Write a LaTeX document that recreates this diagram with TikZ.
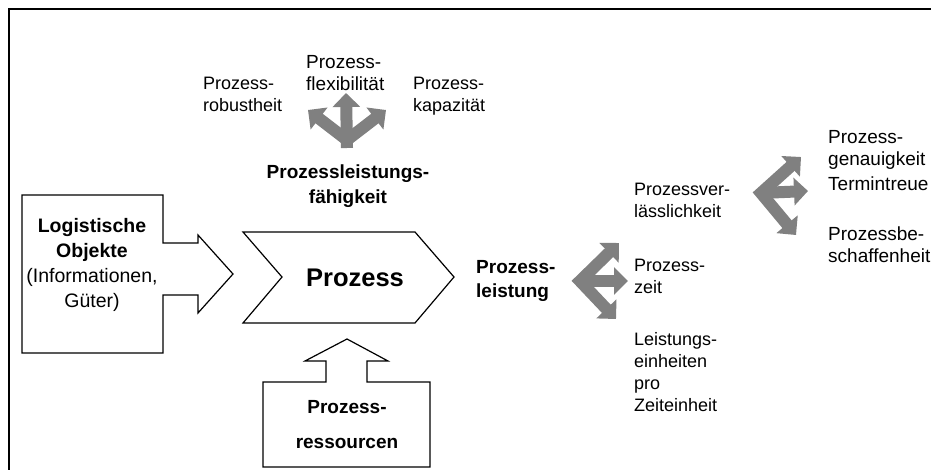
\documentclass[tikz,border=0pt]{standalone}
\usepackage{fontspec}
\setmainfont{Liberation Sans}
\usetikzlibrary{arrows.meta,positioning,calc}
\definecolor{arrgray}{RGB}{128,128,128}

\begin{document}
\begin{tikzpicture}[
  x=1pt, y=-1pt,
  font=\fontsize{18}{22}\selectfont,
  lbl/.style={align=left, inner sep=0pt, anchor=north west},
  head/.style={align=center, inner sep=0pt, anchor=north, font=\fontsize{19}{24.5}\selectfont\bfseries},
  outline/.style={draw, line width=1.2pt, line join=miter},
  garr/.style={draw=arrgray, line width=12pt, -{Triangle[width=27pt,length=14pt]}},
  gfork/.style={draw=arrgray, line width=12pt, line join=miter,
    {Triangle[width=27pt,length=14pt]}-{Triangle[width=27pt,length=14pt]}}
]
\useasboundingbox (0,0) rectangle (931,470);
\draw[line width=1.6pt] (9,470) -- (9,9) -- (931,9);

% input, process, resources
\draw[outline] (22,195) -| (163,243) -| (198,235) -- (233,274) -- (198,313) |- (163,295) |- (22,353) -- cycle;
\node[align=center, inner sep=0pt, anchor=north, font=\fontsize{19.5}{25}\selectfont] (obj) at (92,218)
  {\textbf{Logistische}\\\textbf{Objekte}\\(Informationen,\\Güter)};
\draw[outline] (243,232) -- (415,232) -- (454,277) -- (415,323) -- (243,323) -- (282,277) -- cycle;
\node[font=\fontsize{25.5}{30}\selectfont\bfseries] (proz) at (355,278) {Prozess};
\draw[outline] (263,467) |- (326,382) |- (305,361) -- (347,339) -- (388,361) -| (367,382) -| (430,467) -- cycle;
\node[head, font=\fontsize{19}{35}\selectfont\bfseries] (res) at (347,400) {Prozess-\\ressourcen};

% Leistungsfaehigkeit
\node[head] (plf) at (348,165) {Prozessleistungs-\\fähigkeit};
\node[lbl] (robust) at (203,77) {Prozess-\\robustheit};
\node[lbl, font=\fontsize{19}{22}\selectfont] (flex) at (306,55) {Prozess-\\flexibilität};
\node[lbl] (kap) at (413,77) {Prozess-\\kapazität};
\coordinate (fbase) at (347,148);
\coordinate (fjoin) at (347,140);
\coordinate (ftipu) at (346,93);
\coordinate (ftipl) at (308,110);
\coordinate (ftipr) at (386,110);
\draw[garr] (fbase) -- (ftipu);
\draw[garr] (fjoin) -- (ftipl);
\draw[garr] (fjoin) -- (ftipr);

% Leistung
\node[head, anchor=north west, align=left] (pleist) at (476,260) {Prozess-\\leistung};
\node[lbl] (verl) at (634,183) {Prozessver-\\lässlichkeit};
\node[lbl] (zeit) at (634,259) {Prozess-\\zeit};
\node[lbl] (einh) at (634,332) {Leistungs-\\einheiten\\pro\\Zeiteinheit};
\coordinate (v1) at (580,281);
\coordinate (v1up) at (619,243);
\coordinate (v1dn) at (616,319);
\coordinate (v1mid) at (628,281);
\draw[gfork] (v1up) -- (v1) -- (v1dn);
\draw[garr] (v1) -- (v1mid);

% Verlaesslichkeit
\begin{scope}[font=\fontsize{19}{22}\selectfont]
\node[lbl] (genau) at (828,130) {Prozess-\\genauigkeit};
\node[lbl] (termin) at (828,177) {Termintreue};
\node[lbl] (beschaff) at (828,227) {Prozessbe-\\schaffenheit};
\end{scope}
\coordinate (v2) at (761,193);
\coordinate (v2up) at (801,157);
\coordinate (v2dn) at (796,235);
\coordinate (v2mid) at (808,191);
\draw[gfork] (v2up) -- (v2) -- (v2dn);
\draw[garr] (v2) -- (v2mid);
\end{tikzpicture}
\end{document}
